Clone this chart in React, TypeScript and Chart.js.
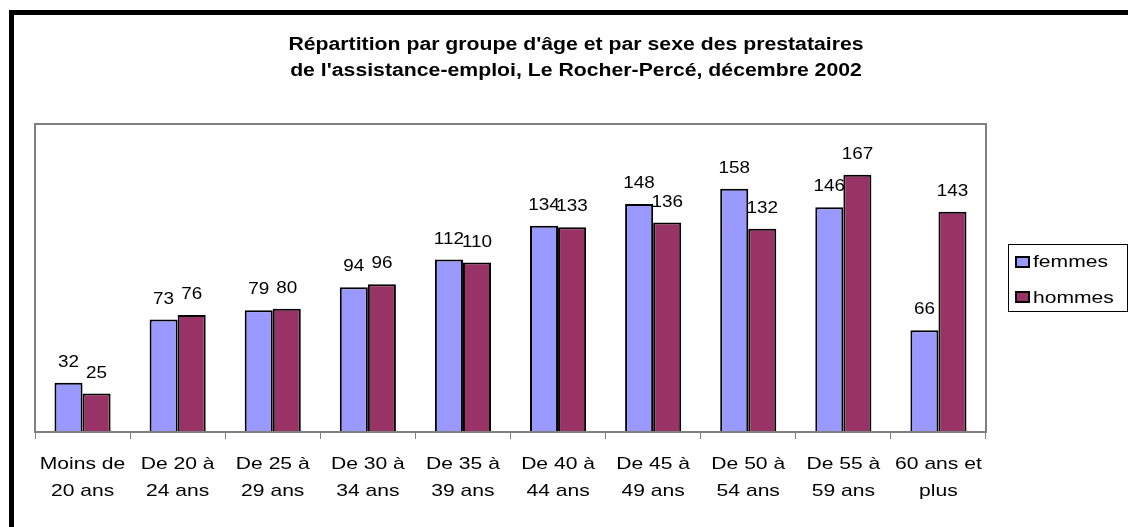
import React, { useEffect, useRef } from "react";
import { Chart, registerables } from "chart.js";

Chart.register(...registerables);

const categories: string[][] = [
  ["Moins de", "20 ans"],
  ["De 20 à", "24 ans"],
  ["De 25 à", "29 ans"],
  ["De 30 à", "34 ans"],
  ["De 35 à", "39 ans"],
  ["De 40 à", "44 ans"],
  ["De 45 à", "49 ans"],
  ["De 50 à", "54 ans"],
  ["De 55 à", "59 ans"],
  ["60 ans et", "plus"],
];
const femmes = [32, 73, 79, 94, 112, 134, 148, 158, 146, 66];
const hommes = [25, 76, 80, 96, 110, 133, 136, 132, 167, 143];
const seriesNames = ["femmes", "hommes"];
const seriesColors = ["#9999FF", "#993366"];
const titleLines = [
  "Répartition par groupe d'âge et par sexe des prestataires",
  "de l'assistance-emploi, Le Rocher-Percé, décembre 2002",
];
const yMin = 0;
const yMax = 200;

const FONT = "'Liberation Sans', Arial, sans-serif";
const SX = 1.24;

function stretched(
  ctx: CanvasRenderingContext2D,
  text: string,
  x: number,
  y: number,
  align: CanvasTextAlign,
  sx: number = SX
) {
  ctx.save();
  ctx.translate(x, y);
  ctx.scale(sx, 1);
  ctx.textAlign = align;
  ctx.textBaseline = "alphabetic";
  ctx.fillText(text, 0, 0);
  ctx.restore();
}

const decorPlugin = {
  id: "decor",
  beforeDraw(chart: any) {
    const ctx: CanvasRenderingContext2D = chart.ctx;
    ctx.save();
    ctx.fillStyle = "#ffffff";
    ctx.fillRect(0, 0, chart.width, chart.height);
    ctx.restore();
  },
  afterDraw(chart: any) {
    const ctx: CanvasRenderingContext2D = chart.ctx;
    const area = chart.chartArea;
    ctx.save();

    // plot area border
    ctx.strokeStyle = "#808080";
    ctx.lineWidth = 2;
    ctx.strokeRect(area.left, area.top, area.right - area.left, area.bottom - area.top);

    // outer frame
    ctx.strokeStyle = "#000000";
    ctx.lineWidth = 5;
    ctx.strokeRect(11.5, 12.5, chart.width + 40, chart.height + 40);

    ctx.fillStyle = "#000000";

    // title
    ctx.font = `bold 18px ${FONT}`;
    stretched(ctx, titleLines[0], 576, 50, "center", 1.18);
    stretched(ctx, titleLines[1], 576, 76, "center", 1.18);

    // x labels
    const xs = chart.scales.x;
    ctx.font = `17px ${FONT}`;
    categories.forEach((lines, i) => {
      const cx = xs.getPixelForValue(i);
      lines.forEach((ln, j) => {
        stretched(ctx, ln, cx, 469 + j * 27, "center");
      });
    });

    // data labels
    ctx.font = `16px ${FONT}`;
    chart.data.datasets.forEach((ds: any, di: number) => {
      const meta = chart.getDatasetMeta(di);
      meta.data.forEach((bar: any, i: number) => {
        stretched(ctx, String(ds.data[i]), bar.x, bar.y - 16, "center", 1.18);
      });
    });

    // legend
    ctx.strokeStyle = "#000000";
    ctx.lineWidth = 1;
    ctx.strokeRect(1008.5, 244.5, 119, 67);
    ctx.font = `17px ${FONT}`;
    chart.data.datasets.forEach((ds: any, di: number) => {
      const top = 256 + di * 35;
      ctx.fillStyle = ds.backgroundColor;
      ctx.fillRect(1015, top, 15, 12);
      ctx.strokeStyle = "#000000";
      ctx.lineWidth = 2;
      ctx.strokeRect(1016, top + 1, 13, 10);
      ctx.fillStyle = "#000000";
      stretched(ctx, ds.label, 1033, top + 11 + di * 1, "left");
    });

    ctx.restore();
  },
};

export default function App() {
  const ref = useRef<HTMLCanvasElement | null>(null);

  useEffect(() => {
    if (!ref.current) return;
    const chart = new Chart(ref.current, {
      type: "bar",
      data: {
        labels: categories.map((c) => c.join(" ")),
        datasets: [
          {
            label: seriesNames[0],
            data: femmes,
            backgroundColor: seriesColors[0],
            borderColor: "#000000",
            borderWidth: 2,
            categoryPercentage: 0.59,
            barPercentage: 1,
          },
          {
            label: seriesNames[1],
            data: hommes,
            backgroundColor: seriesColors[1],
            borderColor: "#000000",
            borderWidth: 2,
            categoryPercentage: 0.59,
            barPercentage: 1,
          },
        ],
      },
      options: {
        responsive: false,
        animation: false,
        devicePixelRatio: 1,
        layout: { padding: { left: 35, right: 1128 - 986, top: 124, bottom: 0 } },
        plugins: {
          legend: { display: false },
          title: { display: false },
          tooltip: { enabled: false },
        },
        scales: {
          x: {
            grid: {
              offset: true,
              drawOnChartArea: false,
              drawTicks: true,
              tickLength: 7,
              color: "#808080",
              lineWidth: 1,
            },
            border: { display: true, color: "#808080", width: 2 },
            ticks: { display: false },
            afterFit: (s: any) => {
              s.height = 527 - 432;
            },
          },
          y: {
            display: false,
            min: yMin,
            max: yMax,
          },
        },
      },
      plugins: [decorPlugin],
    } as any);
    return () => chart.destroy();
  }, []);

  return (
    <div style={{ position: "absolute", left: 0, top: 0, width: 1128, height: 527 }}>
      <canvas ref={ref} width={1128} height={527} style={{ display: "block" }} />
    </div>
  );
}
